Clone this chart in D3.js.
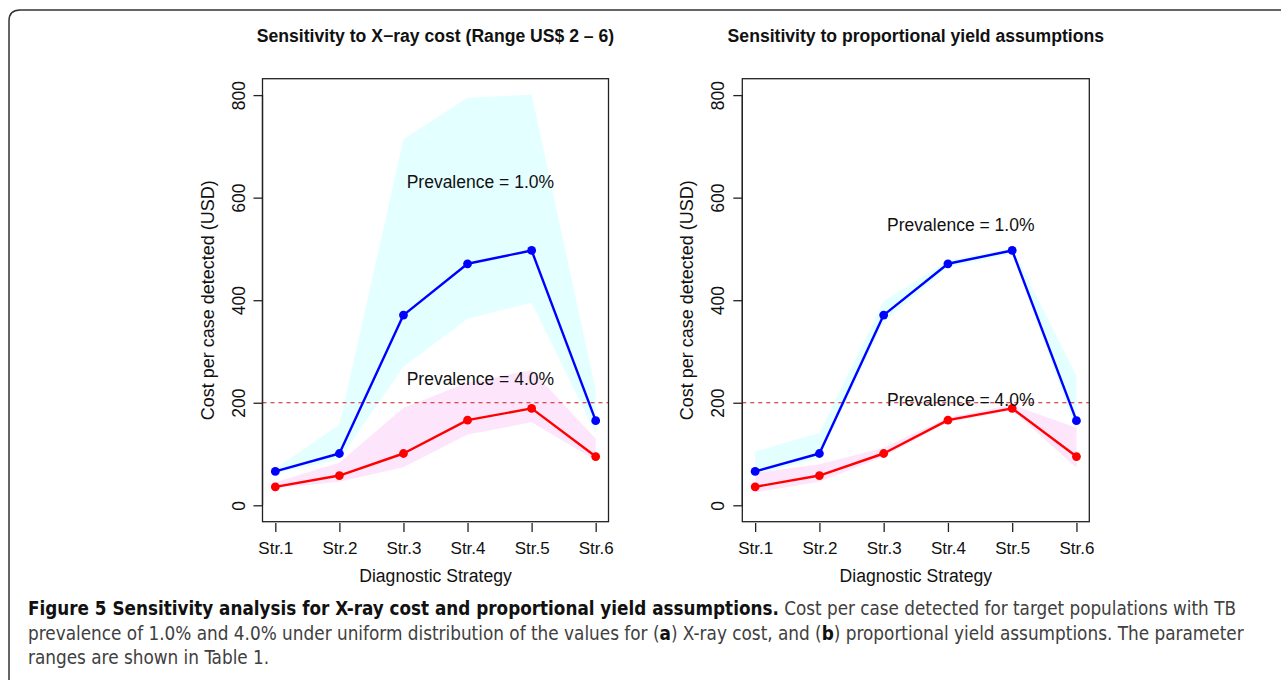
<!DOCTYPE html>
<html>
<head>
<meta charset="utf-8">
<script src="https://cdn.jsdelivr.net/npm/d3@7"></script>
<style>
  html, body { margin: 0; padding: 0; background: #fff; }
  svg { display: block; }
  .plot text { font-family: "Liberation Sans", Arial, Helvetica, sans-serif; fill: #111; }
  .caption { font-family: "DejaVu Sans Condensed", "DejaVu Sans", sans-serif; font-stretch: condensed; }
</style>
</head>
<body>
<svg id="fig" width="1281" height="680"></svg>
<script>
// Diagnostic strategies on the x axis
const categories = ["Str.1", "Str.2", "Str.3", "Str.4", "Str.5", "Str.6"];
const yTicks = [0, 200, 400, 600, 800];

// Base-case cost per case detected (USD)
const prev1 = [66, 101, 371, 471, 497, 165];   // prevalence 1.0%
const prev4 = [36, 58, 101, 166, 189, 95];     // prevalence 4.0%

// Panel a: X-ray cost varied over US$ 2 – 6
const xrayLow1  = [62, 90, 270, 364, 395, 140];
const xrayHigh1 = [72, 157, 714, 795, 801, 225];
const xrayLow4  = [33, 46, 74, 138, 162, 88];
const xrayHigh4 = [45, 83, 190, 239, 264, 130];

// Panel b: proportional yield assumptions varied
const yieldLow1  = [60, 92, 358, 464, 491, 144];
const yieldHigh1 = [105, 141, 398, 477, 502, 252];
const yieldLow4  = [25, 46, 95, 162, 185, 73];
const yieldHigh4 = [63, 80, 112, 171, 196, 151];

const threshold = 200;

const panels = [
  { title: "Sensitivity to X\u2212ray cost (Range US$ 2 \u2013 6)",
    left: 262.5, right: 608.5,
    low1: xrayLow1, high1: xrayHigh1, low4: xrayLow4, high4: xrayHigh4,
    label1: 630, label4: 247 },
  { title: "Sensitivity to proportional yield assumptions",
    left: 742.3, right: 1089.3,
    low1: yieldLow1, high1: yieldHigh1, low4: yieldLow4, high4: yieldHigh4,
    label1: 547, label4: 206 }
];

const svg = d3.select("#fig");
const boxTop = 78.7, boxBottom = 521.7;

// Outer figure frame with a rounded top-left corner
svg.append("path")
  .attr("d", "M9,681 V21 Q9,10 20,10 H1282")
  .attr("fill", "none").attr("stroke", "#333").attr("stroke-width", 1.5);

panels.forEach(p => {
  const g = svg.append("g").attr("class", "plot");
  const x = d3.scaleLinear().domain([0.8, 6.2]).range([p.left, p.right]);
  const y = d3.scaleLinear().domain([-32, 832]).range([boxBottom, boxTop]);
  const idx = categories.map((c, i) => i + 1);

  const band = (lo, hi) => d3.area()
    .x((d, i) => x(i + 1)).y0((d, i) => y(lo[i])).y1((d, i) => y(hi[i]))(lo);

  g.append("path").attr("d", band(p.low1, p.high1)).attr("fill", "#e4ffff");
  g.append("path").attr("d", band(p.low4, p.high4)).attr("fill", "#fde6fb");

  // 200 USD reference line
  g.append("line")
    .attr("x1", p.left).attr("x2", p.right)
    .attr("y1", y(threshold)).attr("y2", y(threshold))
    .attr("stroke", "#c81c1c").attr("stroke-width", 1).attr("stroke-dasharray", "4,4");

  const series = [{ v: prev1, c: "#0000ff" }, { v: prev4, c: "#ff0000" }];
  series.forEach(s => {
    g.append("path")
      .attr("d", d3.line().x((d, i) => x(i + 1)).y(d => y(d))(s.v))
      .attr("fill", "none").attr("stroke", s.c).attr("stroke-width", 2.4)
      .attr("stroke-linejoin", "round");
    g.selectAll(null).data(s.v).join("circle")
      .attr("cx", (d, i) => x(i + 1)).attr("cy", d => y(d))
      .attr("r", 4.4).attr("fill", s.c);
  });

  // Series annotations
  g.append("text").attr("x", x(4.2)).attr("y", y(p.label1))
    .attr("text-anchor", "middle").attr("dominant-baseline", "central")
    .attr("font-size", 17.5).text("Prevalence = 1.0%");
  g.append("text").attr("x", x(4.2)).attr("y", y(p.label4))
    .attr("text-anchor", "middle").attr("dominant-baseline", "central")
    .attr("font-size", 17.5).text("Prevalence = 4.0%");

  // Plot box
  g.append("rect")
    .attr("x", p.left).attr("y", boxTop)
    .attr("width", p.right - p.left).attr("height", boxBottom - boxTop)
    .attr("fill", "none").attr("stroke", "#222").attr("stroke-width", 1.3);

  // Y axis
  const ya = g.append("g").attr("transform", `translate(${p.left},0)`)
    .call(d3.axisLeft(y).tickValues(yTicks).tickSize(9).tickFormat(d3.format("d")));
  ya.select(".domain").attr("d", `M0,${y(0)}V${y(800)}`).attr("stroke", "#222").attr("stroke-width", 1.3);
  ya.selectAll(".tick line").attr("stroke", "#222").attr("stroke-width", 1.3);
  ya.selectAll(".tick text")
    .attr("font-size", 17.5).attr("font-family", null)
    .attr("x", null).attr("dy", null)
    .attr("text-anchor", "middle").attr("dominant-baseline", "central")
    .attr("transform", "translate(-24,0) rotate(-90)");

  // X axis
  const xa = g.append("g").attr("transform", `translate(0,${boxBottom + 1.3})`)
    .call(d3.axisBottom(x).tickValues(idx).tickSize(9).tickFormat(i => categories[i - 1]));
  xa.select(".domain").remove();
  xa.selectAll(".tick line").attr("stroke", "#222").attr("stroke-width", 1.3);
  xa.selectAll(".tick text")
    .attr("font-size", 17).attr("font-family", null)
    .attr("y", 25).attr("dy", null).attr("dominant-baseline", "central");

  // Axis titles
  const cx = (p.left + p.right) / 2;
  g.append("text").attr("x", cx).attr("y", 575.5)
    .attr("text-anchor", "middle").attr("dominant-baseline", "central")
    .attr("font-size", 17.6).text("Diagnostic Strategy");
  g.append("text")
    .attr("transform", `translate(${p.left - 55},${(boxTop + boxBottom) / 2}) rotate(-90)`)
    .attr("text-anchor", "middle").attr("dominant-baseline", "central")
    .attr("font-size", 18).text("Cost per case detected (USD)");

  // Panel title
  g.append("text").attr("x", cx).attr("y", 36)
    .attr("text-anchor", "middle").attr("dominant-baseline", "central")
    .attr("font-size", 17.6).attr("font-weight", "bold").text(p.title);
});

// Figure caption: each line is squeezed horizontally to its column width
const cap = svg.append("g").attr("class", "caption").attr("font-size", 19);
const capLines = [
  { y: 615, w: 1209, parts: [
    ["b", "Figure 5 Sensitivity analysis for X-ray cost and proportional yield assumptions."],
    ["n", " Cost per case detected for target populations with TB"]] },
  { y: 639.5, w: 1217, parts: [
    ["n", "prevalence of 1.0% and 4.0% under uniform distribution of the values for ("],
    ["b", "a"], ["n", ") X-ray cost, and ("], ["b", "b"],
    ["n", ") proportional yield assumptions. The parameter"]] },
  { y: 664, w: null, parts: [["n", "ranges are shown in Table 1."]] }
];
let squeeze = 1;
const capTexts = capLines.map(ln => {
  const t = cap.append("text").attr("x", 0).attr("y", 0);
  ln.parts.forEach(([kind, str]) => {
    t.append("tspan")
      .attr("font-weight", kind === "b" ? "bold" : "normal")
      .attr("fill", kind === "b" ? "#111" : "#404040")
      .text(str);
  });
  return t;
});
squeeze = capLines[1].w / capTexts[1].node().getComputedTextLength();
capLines.forEach((ln, k) => {
  const natural = capTexts[k].node().getComputedTextLength();
  const sx = ln.w ? ln.w / natural : squeeze;
  capTexts[k].attr("transform", `translate(28,${ln.y}) scale(${sx},1)`);
});
</script>
</body>
</html>
